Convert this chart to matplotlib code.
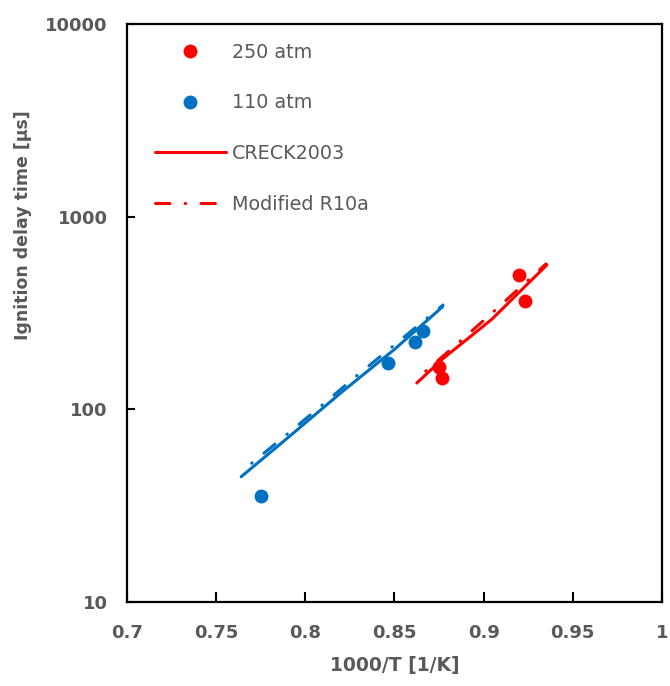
import matplotlib
matplotlib.use("Agg")
import matplotlib.pyplot as plt
import numpy as np

# measured ignition delay times
x_250 = [0.9198, 0.9232, 0.8750, 0.8766]
y_250 = [498, 365, 166, 146]
x_110 = [0.7750, 0.8462, 0.8615, 0.8662]
y_110 = [35.5, 175, 224, 256]

# model predictions
x_creck_250 = [0.8625, 0.8774, 0.8862, 0.9045, 0.9232, 0.9354]
y_creck_250 = [137, 184, 214, 293, 434, 561]
x_mod_250 = [0.8675, 0.8862, 0.9045, 0.9232, 0.935]
y_mod_250 = [158, 223, 315, 453, 569]

x_creck_110 = [0.764, 0.79, 0.82, 0.85, 0.877]
y_creck_110 = [44.7, 71, 122, 205, 341]
x_mod_110 = [0.7699, 0.7892, 0.8082, 0.8273, 0.8464, 0.8658, 0.8772]
y_mod_110 = [52.5, 73.6, 103, 145.5, 203, 285, 348]

x_ticks = [0.7, 0.75, 0.8, 0.85, 0.9, 0.95, 1.0]
x_ticklabels = ["0.7", "0.75", "0.8", "0.85", "0.9", "0.95", "1"]
y_ticks = [10, 100, 1000, 10000]

RED = "#FF0000"
BLUE = "#0070C0"
GREY = "#595959"
DASHDOT = (9.7, (4.7, 5, 0.2, 5))  # starts on the dot, like the original
DASHDOT_LEG = (0, (4.7, 5, 0.2, 5))


def makeChart():
    fig = plt.figure(figsize=(6.70, 6.86), dpi=100)
    ax = fig.add_axes([0.1896, 0.1224, 0.7984, 0.8426])
    lw = 2.2

    ax.plot(x_creck_110, y_creck_110, color=BLUE, lw=lw, solid_capstyle="round")
    ax.plot(x_mod_110, y_mod_110, color=BLUE, lw=lw, linestyle=DASHDOT,
            dash_capstyle="round")
    ax.plot(x_creck_250, y_creck_250, color=RED, lw=lw, solid_capstyle="round")
    ax.plot(x_mod_250, y_mod_250, color=RED, lw=lw, linestyle=DASHDOT,
            dash_capstyle="round")

    h250, = ax.plot(x_250, y_250, "o", color=RED, ms=10, mew=0)
    h110, = ax.plot(x_110, y_110, "o", color=BLUE, ms=10, mew=0)

    # legend handles (red lines stand for both pressures)
    hc, = ax.plot([], [], color=RED, lw=lw, solid_capstyle="round")
    hm, = ax.plot([], [], color=RED, lw=lw, linestyle=DASHDOT_LEG, dash_capstyle="round")

    ax.set_yscale("log")
    ax.set_xlim(0.7, 1.0)
    ax.set_ylim(10, 10000)
    ax.set_xticks(x_ticks)
    ax.set_xticklabels(x_ticklabels)
    ax.set_yticks(y_ticks)
    ax.set_yticklabels([str(v) for v in y_ticks])
    ax.minorticks_off()

    ax.tick_params(axis="x", direction="in", length=7, width=1.5, pad=16,
                   labelsize=13, labelcolor=GREY)
    ax.tick_params(axis="y", direction="in", length=6, width=1.5, pad=14,
                   labelsize=13, labelcolor=GREY)
    for lab in ax.get_xticklabels() + ax.get_yticklabels():
        lab.set_fontweight("bold")
    for sp in ax.spines.values():
        sp.set_linewidth(1.6)
        sp.set_color("black")

    ax.set_xlabel("1000/T [1/K]", fontsize=13.5, fontweight="bold", color=GREY,
                  labelpad=10)
    fig.text(23 / 670, 1 - 225 / 686, "Ignition delay time [μs]", rotation=90,
             fontsize=12.5, fontweight="bold", color=GREY, ha="center", va="center")

    leg = ax.legend([h250, h110, hc, hm],
                    ["250 atm", "110 atm", "CRECK2003", "Modified R10a"],
                    loc="upper left", bbox_to_anchor=(0.038, 0.981), frameon=False,
                    fontsize=13.8, labelspacing=1.65, handlelength=3.7,
                    handletextpad=0.3, numpoints=1, borderaxespad=0)
    for t in leg.get_texts():
        t.set_color(GREY)

    fig.savefig("out.png", dpi=100)


makeChart()
